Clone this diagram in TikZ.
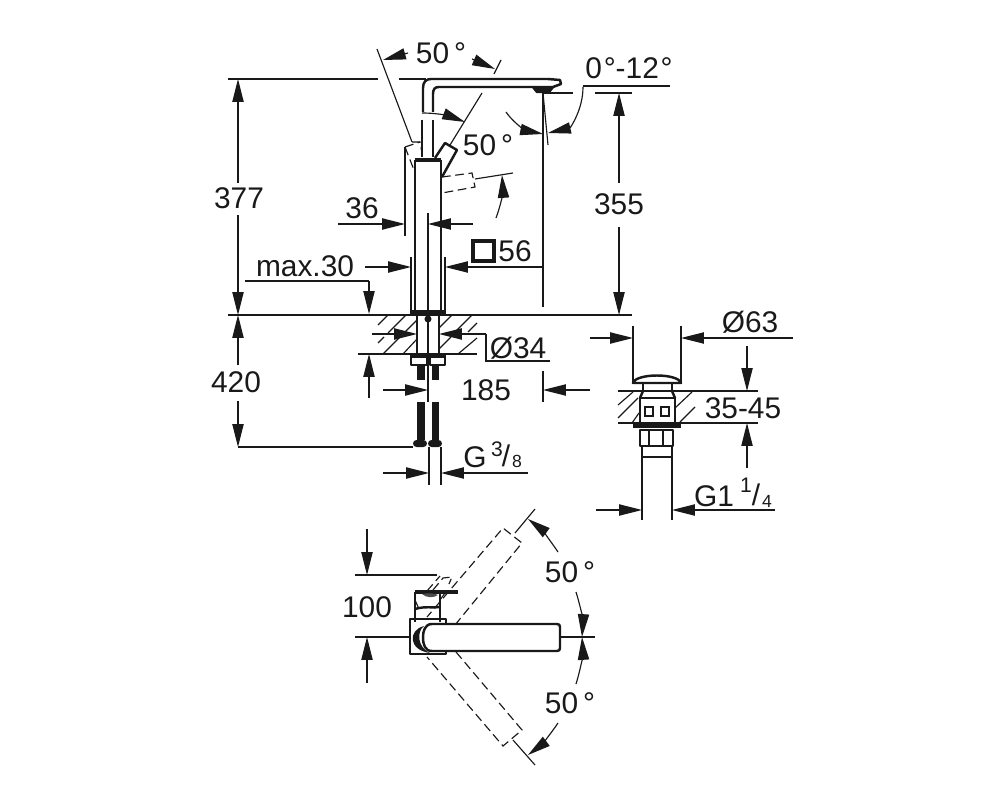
\documentclass[tikz,border=0pt]{standalone}
\usepackage{fontspec}
\setmainfont{Liberation Sans}
\usetikzlibrary{arrows.meta}
\tikzset{
	dimline/.style={line width=0.65pt,black!90},
	dimarrow/.style={dimline,-{Triangle[length=13pt,width=6.4pt]}},
	body/.style={line width=1.4pt,black!90,line join=round},
	thick body/.style={line width=2pt,black!90},
	ghost/.style={line width=0.65pt,black!90,dash pattern=on 5pt off 2.6pt},
	hatchline/.style={line width=0.65pt,black!90},
	lbl/.style={inner sep=0pt,font=\fontsize{17}{17}\selectfont,text=black!90},
	smalllbl/.style={inner sep=0pt,font=\fontsize{12}{12}\selectfont,text=black!90},
	tinylbl/.style={inner sep=0pt,font=\fontsize{10}{10}\selectfont,text=black!90}
}
\begin{document}
\begin{tikzpicture}[x=0.02cm,y=-0.02cm]
	\useasboundingbox (0,0) rectangle (1000,800);
	\draw[dimline] (228,79) -- (378,79);
	\draw[dimline] (228,315) -- (632,315);
	\draw[dimline] (399,79) -- (426,79);
	\draw[body] (423,112) -- (423,88) .. controls (423,82) and (426,79) .. (431,79) -- (548,79) -- (560,80) -- (561,84) -- (553,87) -- (533,87);
	\draw[body] (433,112) -- (433,94) .. controls (433,89) and (435,87) .. (439,87) -- (533,87) -- (537,92) -- (549,92) -- (553,87);
	\fill[black!90] (535,88) -- (553,88) -- (548,93) -- (538,93) -- cycle;
	\draw[body] (422,120) -- (422,157);
	\draw[body] (433,120) -- (433,157);
	\draw[dimarrow] (422,113) .. controls (440,113) and (452,117) .. (465,122);
	\draw[dimline] (482,93) -- (450,145);
	\draw[dimline] (377,49) -- (412,142);
	\draw[dimarrow] (408,53) -- (383,60);
	\draw[dimarrow] (472,59) -- (495,69);
	\draw[dimline] (501,60) -- (494,74);
	\node[lbl] (angletop) at (441,53) {50\,°};
	\node[lbl] (anglelever) at (488,145) {50\,°};
	\node[lbl] (angletilt) at (629,68) {0\kern1pt°-12\kern1pt°};
	\draw[ghost] (412,142) -- (420,142) -- (422,153);
	\draw[ghost] (405,147) -- (420,142);
	\draw[ghost] (405,147) -- (414,170);
	\draw[thick body] (415,160) -- (441,160);
	\draw[body] (415,160) -- (415,312);
	\draw[body] (441,160) -- (441,312);
	\draw[dimline] (405,147) -- (405,236);
	\draw[body] (435,158) -- (445,143) -- (457,150) -- (442,177);
	\draw[ghost] (442,177) -- (472,173) -- (475,187) -- (442,193);
	\draw[dimline] (475,179) -- (513,173);
	\draw[dimarrow] (496,218) .. controls (501,205) and (503,190) .. (502,175);
	\draw[dimarrow] (338,224) -- (405,224);
	\draw[dimarrow] (473,224) -- (428,224);
	\node[lbl] (wd36) at (362,208) {36};
	\draw[dimline] (428,213) -- (428,402);
	\draw[line width=2pt,black!90] (473,241) rectangle (494,261);
	\node[lbl] (sq56) at (515,251) {56};
	\draw[dimline] (543,93) -- (543,307);
	\draw[dimline] (543,93) -- (548,145);
	\draw[dimarrow] (506,112) .. controls (515,125) and (528,131) .. (543,134);
	\draw[dimarrow] (583,87) .. controls (583,110) and (570,128) .. (548,133);
	\draw[dimline] (583,86) -- (670,86);
	\draw[dimline] (543,93) -- (573,93);
	\draw[dimline] (595,93) -- (632,93);
	\draw[dimarrow] (619,183) -- (619,93);
	\draw[dimarrow] (619,227) -- (619,315);
	\node[lbl] (ht355) at (619,204) {355};
	\draw[dimarrow] (238,183) -- (238,79);
	\draw[dimarrow] (238,215) -- (238,315);
	\node[lbl] (ht377) at (239,198) {377};
	\draw[dimline] (411,257) -- (411,312);
	\draw[dimline] (445,257) -- (445,312);
	\draw[dimarrow] (365,267) -- (411,267);
	\draw[dimarrow] (543,267) -- (445,267);
	\node[lbl] (mx30) at (305,266) {max.30};
	\draw[dimline] (245,281) -- (369,281);
	\draw[dimarrow] (369,281) -- (369,314);
	\draw[thick body] (410,312) -- (446,312);
	\draw[body] (378,315) -- (477,315);
	\draw[body] (358,354) -- (477,354);
	\draw[line width=1pt,black!90] (417,315) -- (417,354);
	\draw[line width=1pt,black!90] (439,315) -- (439,354);
	\fill[black!90] (428,319) circle (2pt);
	\foreach \xa/\ya/\xb/\yb in {378/325/388/315,388/333/406/315,378/343/384/337,383/354/400/337,405/332/417/320,403/354/417/339,439/328/452/315,455/332/472/315,468/332/477/323,439/349/451/337,458/354/477/338}
		\draw[hatchline] (\xa,\ya) -- (\xb,\yb);
	\draw[dimarrow] (372,334) -- (417,334);
	\draw[dimarrow] (486,334) -- (439,334);
	\draw[dimline] (486,334) -- (486,361) -- (550,361);
	\node[lbl] (dia34) at (518,348) {Ø34};
	\draw[dimarrow] (369,398) -- (369,354);
	\draw[thick body] (410,356) -- (446,356);
	\draw[body] (411,358) -- (411,365) -- (427,365) -- (427,358);
	\draw[body] (430,358) -- (430,365) -- (445,365) -- (445,358);
	\fill[black!90] (417,365) rectangle (424.5,380);
	\fill[black!90] (431.5,365) rectangle (439,380);
	\fill[black!90] (417,402) rectangle (424.5,440);
	\fill[black!90] (431.5,402) rectangle (439,440);
	\fill[black!90,rounded corners=2pt] (413,440) rectangle (427,447);
	\fill[black!90,rounded corners=2pt] (428,440) rectangle (442,447);
	\draw[dimarrow] (383,390) -- (428,390);
	\draw[dimarrow] (590,390) -- (543,390);
	\draw[dimline] (543,371) -- (543,402);
	\node[lbl] (off185) at (486,390) {185};
	\draw[dimarrow] (238,365) -- (238,315);
	\draw[dimarrow] (238,401) -- (238,447);
	\draw[dimline] (238,447) -- (413,447);
	\node[lbl] (dp420) at (236,382) {420};
	\draw[dimline] (429,447) -- (429,485);
	\draw[dimline] (441,447) -- (441,485);
	\draw[dimarrow] (383,473) -- (429,473);
	\draw[dimarrow] (528,473) -- (441,473);
	\node[lbl] (g38a) at (475,457) {G};
	\node[smalllbl] (g38b) at (497,449) {3};
	\node[lbl] (g38c) at (506,456) {/};
	\node[tinylbl] (g38d) at (517,461) {8};
	\draw[dimarrow] (590,338) -- (633,338);
	\draw[dimarrow] (793,338) -- (681,338);
	\draw[dimline] (633,326) -- (633,382);
	\draw[dimline] (681,326) -- (681,382);
	\node[lbl] (dia63) at (750,322) {Ø63};
	\draw[body] (633,383) .. controls (636,373) and (678,373) .. (681,383) -- cycle;
	\draw[dimline] (643,383) -- (643,391);
	\draw[dimline] (672,383) -- (672,391);
	\draw[body] (618,391) -- (695,391);
	\draw[body] (618,423) -- (695,423);
	\draw[dimline] (695,391) -- (758,391);
	\draw[dimline] (695,423) -- (758,423);
	\foreach \xa/\ya/\xb/\yb in {618/405/633/392,618/418/638/398,632/423/639/413,675/408/692/392,680/422/695/407}
		\draw[hatchline] (\xa,\ya) -- (\xb,\yb);
	\draw[line width=1.6pt,black!90] (640,398) rectangle (675,423);
	\draw[body] (640,398) -- (643,391);
	\draw[body] (675,398) -- (672,391);
	\draw[line width=1pt,black!90] (645,407) rectangle (653,416);
	\draw[line width=1pt,black!90] (661,407) rectangle (669,416);
	\draw[thick body] (633,426) -- (681,426);
	\draw[body] (640,430) rectangle (673,446);
	\draw[line width=1pt,black!90] (649,430) -- (649,446);
	\draw[line width=1pt,black!90] (663,430) -- (663,446);
	\draw[body] (642,446) rectangle (672,457);
	\draw[dimline] (642,457) -- (642,520);
	\draw[dimline] (672,457) -- (672,520);
	\draw[dimarrow] (596,510) -- (642,510);
	\draw[dimarrow] (775,510) -- (672,510);
	\draw[dimarrow] (747,346) -- (747,391);
	\draw[dimarrow] (747,468) -- (747,423);
	\node[lbl] (rg3545) at (743,408) {35-45};
	\node[lbl] (g114a) at (714,496) {G1};
	\node[smalllbl] (g114b) at (746,485) {1};
	\node[lbl] (g114c) at (756,495) {/};
	\node[tinylbl] (g114d) at (767,501) {4};
	\draw[dimline] (355,575) -- (437,575);
	\draw[dimline] (355,637) -- (410,637);
	\draw[dimline] (560,637) -- (595,637);
	\draw[dimarrow] (367,529) -- (367,575);
	\draw[dimarrow] (367,683) -- (367,637);
	\node[lbl] (wd100) at (367,607) {100};
	\draw[body] (415,592) -- (415,622);
	\draw[body] (440,592) -- (440,622);
	\draw[thick body] (415,592) -- (458,592);
	\draw[body] (415,609) .. controls (425,606) and (432,608) .. (440,607);
	\fill[black!70] (422,594) .. controls (428,593) and (434,593) .. (438,595) .. controls (434,598) and (426,598) .. (422,594);
	\draw[ghost] (433,590) -- (443,578) -- (452,577) -- (449,584);
	\draw[ghost] (427,591) -- (440,576);
	\draw[ghost] (415,600) -- (419,609);
	\draw[ghost] (440,600) -- (445,593);
	\draw[body] (446,619) rectangle (410,654);
	\draw[ghost] (455,625) -- (522,543) -- (503,528) -- (427,617);
	\draw[ghost] (456,652) -- (522,730) -- (503,746) -- (427,657);
	\draw[dimline] (515,533) -- (535,509);
	\draw[dimline] (513,740) -- (535,765);
	\draw[body,fill=white] (557,624) -- (432,624) .. controls (425,624) and (423,631) .. (423,637) .. controls (423,645) and (425,651) .. (432,651) -- (557,651) .. controls (559,651) and (560,650) .. (560,648) -- (560,627) .. controls (560,625) and (559,624) .. (557,624) -- cycle;
	\fill[black!90] (424,626) .. controls (408,630) and (408,650) .. (430,653) .. controls (418,648) and (416,632) .. (424,626) -- cycle;
	\draw[dimarrow] (558,552) .. controls (550,540) and (540,528) .. (528,519);
	\draw[dimarrow] (576,592) .. controls (581,608) and (583,622) .. (582,637);
	\draw[dimarrow] (576,684) .. controls (581,668) and (583,652) .. (582,637);
	\draw[dimarrow] (558,723) .. controls (550,735) and (540,746) .. (528,755);
	\node[lbl] (sw50a) at (570,572) {50\,°};
	\node[lbl] (sw50b) at (570,703) {50\,°};
\end{tikzpicture}
\end{document}
